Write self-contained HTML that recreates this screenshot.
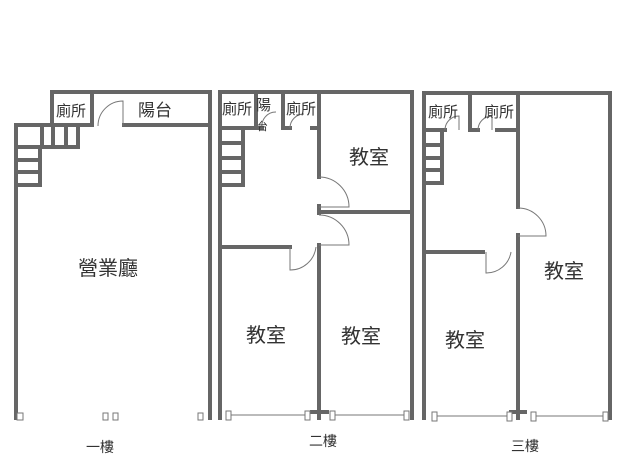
<!DOCTYPE html>
<html><head><meta charset="utf-8"><style>
html,body{margin:0;padding:0;background:#fff;}
svg{display:block;}
text{font-family:"Liberation Sans","Noto Sans CJK TC",sans-serif;fill:#333;}
</style></head><body>
<svg width="640" height="461" viewBox="0 0 640 461" xmlns="http://www.w3.org/2000/svg">
<g stroke="#666" stroke-width="4" fill="none" stroke-linecap="square">
<path d="M52,125 V92 H210 V418"/>
<path d="M16,418 V125 H92"/>
<path d="M92,92 V125"/>
<path d="M124,125 H208"/>
<path d="M42,125 V147 M53,125 V147 M66,125 V147 M78,125 V147 M16,147 H78"/>
<path d="M40,147 V185 M16,160 H40 M16,172 H40 M16,185 H40"/>
<path d="M220,418 V92 H412 V418"/>
<path d="M256,92 V128 M283,92 V128 M319,92 V177 M319,206 V213 M319,245 V418"/>
<path d="M220,128 H262 M283,128 H290 M312,128 H319"/>
<path d="M319,212 H412"/>
<path d="M220,247 H290"/>
<path d="M243,128 V185 M220,143 H243 M220,158 H243 M220,172 H243 M220,185 H243"/>
<path d="M312,412 H327"/>
<path d="M424,418 V93 H610 V418"/>
<path d="M470,93 V130 M518,93 V207 M518,235 V418"/>
<path d="M424,130 H445 M470,130 H478 M497,130 H518"/>
<path d="M442,130 V183 M424,145 H442 M424,158 H442 M424,170 H442 M424,183 H442"/>
<path d="M424,252 H483"/>
<path d="M511,412 H525"/>
</g>
<g stroke="#777" stroke-width="1" fill="none">
<path d="M98,126 A25,25 0 0 1 123,101 V126"/>
<path d="M319,177 A30,30 0 0 1 349,207 H319"/>
<path d="M319,215 A30,30 0 0 1 349,245 H319"/>
<path d="M290,247 V270 A26,26 0 0 0 316,247"/>
<path d="M518,208 A28,28 0 0 1 546,236 H518"/>
<path d="M486,252 V273 A25,25 0 0 0 511,252"/>
<path d="M262,128 A14,14 0 0 1 276,112"/>
<path d="M290,128 A14,14 0 0 1 304,114"/>
<path d="M445,130 A14,14 0 0 1 459,116 V130"/>
<path d="M478,130 A14,14 0 0 1 492,116 V130"/>
<path d="M231,415 H305 M332,415 H405 M436,416 H508 M532,416 H604"/>
<g fill="#fff">
<rect x="17" y="413" width="6" height="7"/><rect x="103" y="413" width="5" height="7"/><rect x="113" y="413" width="5" height="7"/><rect x="198" y="413" width="5" height="7"/>
<rect x="226" y="411" width="5" height="9"/><rect x="305" y="411" width="5" height="9"/><rect x="330" y="411" width="5" height="9"/><rect x="404" y="411" width="5" height="9"/>
<rect x="432" y="412" width="5" height="9"/><rect x="507" y="412" width="5" height="9"/><rect x="531" y="412" width="5" height="9"/><rect x="603" y="412" width="5" height="9"/>
</g>
</g>
<g font-size="15">
<text x="56" y="116">廁所</text>
<text x="138" y="116" font-size="17">陽台</text>
<text x="222" y="114">廁所</text>
<text x="256" y="110">陽</text>
<text x="257" y="130" font-size="11">台</text>
<text x="286" y="114">廁所</text>
<text x="428" y="117">廁所</text>
<text x="484" y="117">廁所</text>
</g>
<g font-size="20">
<text x="78" y="275">營業廳</text>
<text x="349" y="164">教室</text>
<text x="246" y="342">教室</text>
<text x="341" y="343">教室</text>
<text x="445" y="347">教室</text>
<text x="544" y="278">教室</text>
</g>
<g font-size="14">
<text x="86" y="452">一樓</text>
<text x="309" y="446">二樓</text>
<text x="511" y="451">三樓</text>
</g>
</svg>
</body></html>
